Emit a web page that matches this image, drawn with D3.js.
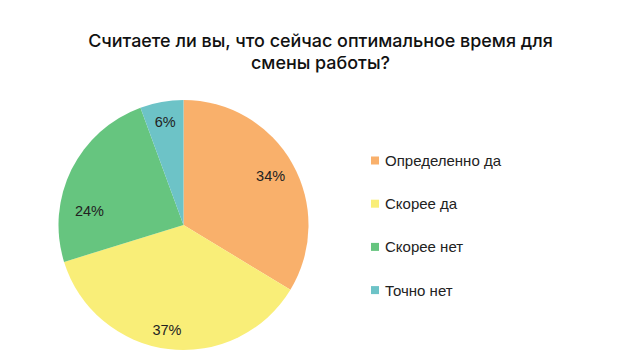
<!DOCTYPE html>
<html><head><meta charset="utf-8">
<script src="https://cdn.jsdelivr.net/npm/d3@7"></script>
<style>
html,body{margin:0;padding:0;background:#fff;}
svg{display:block;}
</style></head>
<body>
<svg id="chart" width="624" height="359"></svg>
<script>
const categories = ["Определенно да", "Скорее да", "Скорее нет", "Точно нет"];
const values = [33.7, 36.6, 24.2, 5.6];
const valueLabels = ["34%", "37%", "24%", "6%"];
const colors = ["#F9B06B", "#F9EE78", "#66C57F", "#6DC3C7"];
const titleLines = ["Считаете ли вы, что сейчас оптимальное время для", "смены работы?"];

const svg = d3.select("#chart");
const font = "'Liberation Sans', Arial, sans-serif";
const tfont = "Inter, 'Liberation Sans', sans-serif";

const titles = svg.append("g").selectAll("text").data(titleLines).join("text")
  .attr("x", 320.5).attr("y", (d, i) => 47 + i * 21.5)
  .attr("text-anchor", "middle")
  .attr("font-family", tfont).attr("font-size", 17).attr("font-weight", 500)
  .attr("fill", "#111")
  .text(d => d);
// fit first line to reference width
const w0 = titles.nodes()[0].getComputedTextLength();
const fs = 17 * 465 / w0;
titles.attr("font-size", fs);

const cx = 183.5, cy = 225, r = 125;
const pie = d3.pie().sort(null).value(d => d)(values);
const arc = d3.arc().innerRadius(0).outerRadius(r);
const g = svg.append("g").attr("transform", `translate(${cx},${cy})`);
g.selectAll("path").data(pie).join("path")
  .attr("d", arc).attr("fill", (d, i) => colors[i]);

const labelShift = [0, 2, -18, 0];
const labelRad = [100, 106, 95, 105];
g.selectAll("text").data(pie).join("text")
  .attr("transform", (d, i) => {
    const a = (d.startAngle + d.endAngle) / 2 + labelShift[i] * Math.PI / 180;
    const rr = labelRad[i];
    return `translate(${rr * Math.sin(a)},${-rr * Math.cos(a)})`;
  })
  .attr("text-anchor", "middle").attr("dy", "0.36em")
  .attr("font-family", font).attr("font-size", 14.5)
  .attr("fill", "#222")
  .text((d, i) => valueLabels[i]);

const leg = svg.append("g").selectAll("g").data(categories).join("g")
  .attr("transform", (d, i) => `translate(371,${160.5 + i * 43.2})`);
leg.append("rect").attr("x", 0).attr("y", -4).attr("width", 8).attr("height", 8)
  .attr("fill", (d, i) => colors[i]);
leg.append("text").attr("x", 14).attr("dy", "0.36em")
  .attr("font-family", font).attr("font-size", 15).attr("fill", "#222")
  .text(d => d);
</script>
</body></html>
